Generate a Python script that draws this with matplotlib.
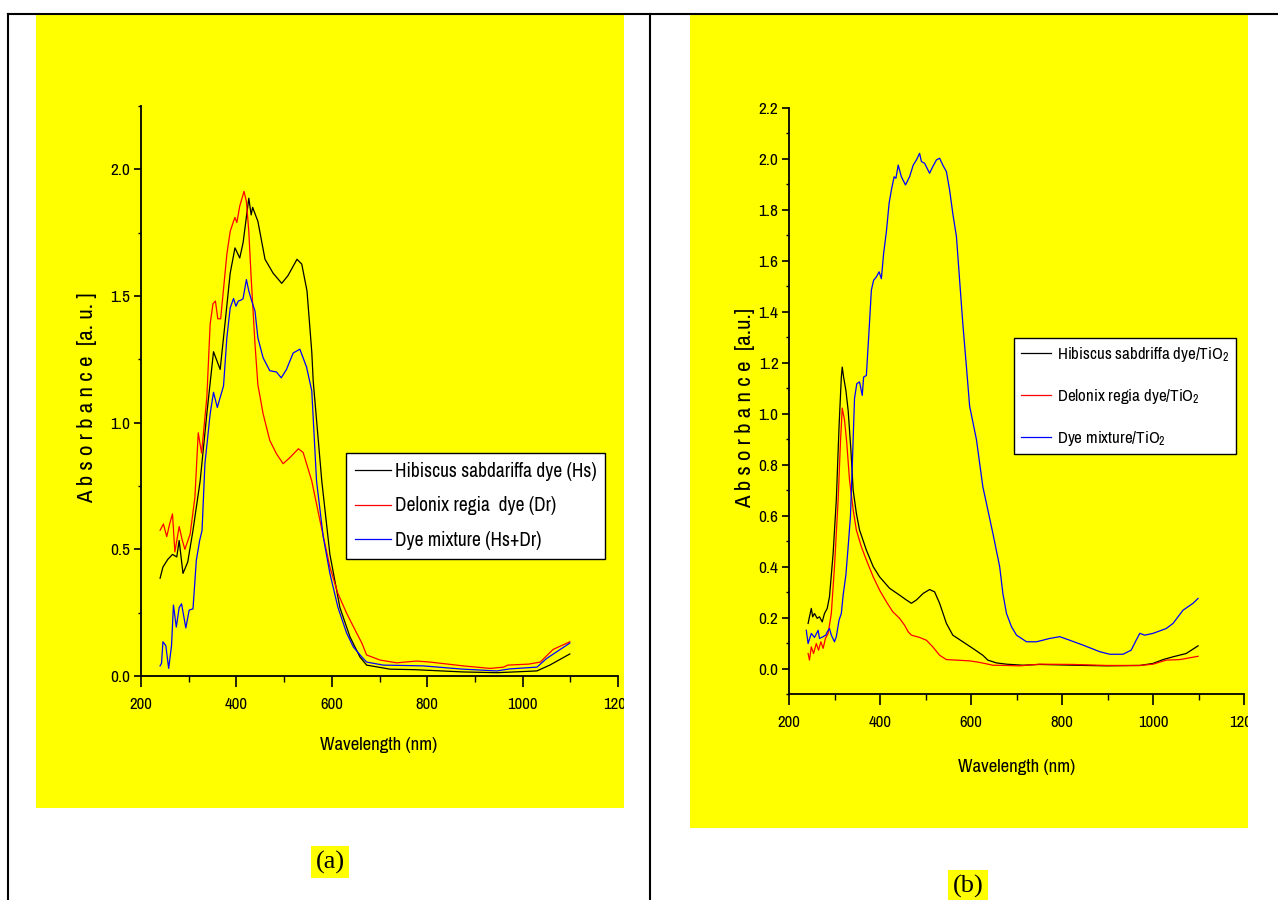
import matplotlib
matplotlib.use("Agg")
import matplotlib.pyplot as plt
from matplotlib.patches import Rectangle
from matplotlib.lines import Line2D
from matplotlib.transforms import Bbox, TransformedBbox
from matplotlib.ticker import MultipleLocator, FormatStrFormatter

NARROW = 'Archivo Narrow'
plt.rcParams['font.family'] = [NARROW, 'DejaVu Sans']
plt.rcParams['mathtext.fontset'] = 'custom'
plt.rcParams['mathtext.rm'] = NARROW
plt.rcParams['mathtext.it'] = NARROW + ':italic'

# (a) dyes in solution
hs_wl = [240, 246, 256, 266, 275, 280, 288, 298, 309, 324, 338, 352, 366, 376, 387, 397,
         407, 414, 426, 431, 434, 445, 460, 477, 495, 508, 527, 537, 548, 558, 561, 579,
         596, 617, 638, 659, 673, 722, 774, 875, 946, 1030, 1057, 1099]
hs_abs = [0.386, 0.43, 0.46, 0.48, 0.47, 0.535, 0.405, 0.45, 0.575, 0.77, 1.035, 1.28, 1.21,
          1.39, 1.59, 1.69, 1.65, 1.71, 1.886, 1.82, 1.85, 1.795, 1.645, 1.59, 1.55, 1.58,
          1.645, 1.626, 1.52, 1.28, 1.165, 0.77, 0.48, 0.27, 0.155, 0.075, 0.043, 0.027,
          0.025, 0.016, 0.013, 0.02, 0.043, 0.087]

dr_wl = [240, 247, 254, 260, 266, 271, 280, 286, 292, 303, 313, 320, 327, 338, 345, 351, 356,
         361, 367, 380, 387, 394, 397, 401, 407, 416, 421, 426, 431, 439, 445, 456, 470, 484,
         498, 512, 530, 540, 558, 575, 596, 613, 631, 652, 663, 673, 701, 736, 778, 806, 875,
         932, 960, 969, 1013, 1037, 1064, 1099]
dr_abs = [0.575, 0.6, 0.55, 0.6, 0.64, 0.49, 0.59, 0.54, 0.5, 0.56, 0.705, 0.96, 0.88, 1.1,
          1.39, 1.47, 1.48, 1.41, 1.41, 1.665, 1.755, 1.795, 1.81, 1.79, 1.855, 1.913, 1.873,
          1.755, 1.57, 1.31, 1.15, 1.035, 0.93, 0.877, 0.838, 0.862, 0.897, 0.882, 0.77,
          0.615, 0.43, 0.325, 0.248, 0.17, 0.13, 0.083, 0.063, 0.052, 0.059, 0.055, 0.04,
          0.03, 0.035, 0.043, 0.047, 0.055, 0.105, 0.135]

mix_wl = [240, 243, 246, 252, 258, 264, 268, 274, 280, 285, 294, 301, 309, 316, 323, 328, 334,
          345, 352, 360, 366, 373, 380, 387, 394, 399, 404, 411, 414, 421, 426, 431, 439, 445,
          456, 470, 484, 494, 505, 519, 533, 547, 558, 568, 582, 596, 613, 631, 645, 663, 673,
          708, 791, 875, 946, 973, 1030, 1051, 1099]
mix_abs = [0.04, 0.05, 0.135, 0.12, 0.03, 0.12, 0.28, 0.193, 0.27, 0.285, 0.19, 0.26, 0.265,
           0.457, 0.535, 0.575, 0.838, 1.035, 1.12, 1.06, 1.1, 1.145, 1.335, 1.453, 1.49,
           1.46, 1.48, 1.485, 1.49, 1.565, 1.52, 1.487, 1.44, 1.335, 1.256, 1.205, 1.2, 1.177,
           1.21, 1.275, 1.29, 1.22, 1.126, 0.77, 0.55, 0.405, 0.27, 0.17, 0.115, 0.075, 0.055,
           0.043, 0.04, 0.027, 0.02, 0.028, 0.035, 0.07, 0.13]

# (b) dyes on TiO2
hs_t_wl = [242, 245, 249, 252, 256, 262, 267, 273, 278, 284, 289, 297, 304, 310, 315, 317,
           320, 325, 330, 336, 341, 348, 355, 370, 385, 399, 421, 443, 458, 469, 480, 495,
           509, 520, 531, 546, 560, 582, 604, 626, 637, 656, 678, 714, 751, 824, 897, 971,
           1000, 1022, 1044, 1073, 1099]
hs_t_abs = [0.177, 0.203, 0.236, 0.203, 0.216, 0.197, 0.203, 0.183, 0.216, 0.236, 0.282,
            0.452, 0.662, 0.95, 1.144, 1.183, 1.144, 1.092, 1.013, 0.858, 0.7, 0.61, 0.544,
            0.465, 0.4, 0.36, 0.315, 0.288, 0.269, 0.256, 0.269, 0.295, 0.31, 0.301, 0.256,
            0.177, 0.131, 0.105, 0.079, 0.052, 0.033, 0.022, 0.017, 0.013, 0.016, 0.013,
            0.0105, 0.012, 0.02, 0.035, 0.046, 0.059, 0.089]

dr_t_wl = [242, 245, 249, 254, 260, 265, 270, 275, 280, 286, 293, 300, 308, 313, 317, 322,
           327, 333, 341, 348, 359, 370, 385, 399, 414, 428, 443, 454, 462, 469, 487, 502,
           516, 531, 546, 568, 597, 619, 648, 678, 707, 751, 824, 897, 971, 1000, 1029, 1059,
           1099]
dr_t_abs = [0.059, 0.033, 0.085, 0.059, 0.098, 0.072, 0.105, 0.079, 0.118, 0.138, 0.216, 0.4,
            0.662, 0.885, 1.022, 0.976, 0.885, 0.74, 0.623, 0.544, 0.478, 0.426, 0.36, 0.308,
            0.262, 0.223, 0.197, 0.17, 0.144, 0.131, 0.122, 0.111, 0.085, 0.052, 0.035, 0.033,
            0.03, 0.024, 0.013, 0.012, 0.0105, 0.017, 0.016, 0.012, 0.012, 0.017, 0.033,
            0.035, 0.048]

mix_t_wl = [238, 242, 249, 256, 264, 267, 275, 281, 284, 289, 293, 300, 304, 310, 315, 319,
            325, 330, 335, 339, 344, 349, 355, 361, 364, 370, 376, 381, 386, 392, 398, 403,
            408, 414, 420, 425, 431, 435, 440, 447, 456, 465, 473, 480, 487, 491, 498, 509,
            516, 524, 531, 538, 546, 553, 560, 568, 575, 582, 590, 597, 612, 626, 648, 663,
            670, 678, 689, 700, 722, 744, 773, 795, 817, 846, 883, 905, 934, 952, 963, 971,
            982, 1000, 1029, 1044, 1066, 1088, 1099]
mix_t_abs = [0.15, 0.098, 0.138, 0.122, 0.15, 0.118, 0.125, 0.131, 0.144, 0.157, 0.131, 0.105,
             0.125, 0.19, 0.216, 0.288, 0.367, 0.478, 0.596, 0.793, 1.06, 1.118, 1.125, 1.072,
             1.144, 1.15, 1.328, 1.485, 1.524, 1.537, 1.557, 1.53, 1.63, 1.714, 1.826, 1.878,
             1.93, 1.924, 1.976, 1.93, 1.898, 1.93, 1.976, 1.996, 2.022, 1.99, 1.983, 1.944,
             1.97, 1.996, 2.003, 1.976, 1.95, 1.878, 1.786, 1.695, 1.524, 1.354, 1.183, 1.03,
             0.898, 0.714, 0.531, 0.4, 0.295, 0.216, 0.164, 0.131, 0.105, 0.105, 0.118, 0.125,
             0.111, 0.092, 0.066, 0.056, 0.056, 0.072, 0.111, 0.138, 0.131, 0.138, 0.157,
             0.177, 0.229, 0.256, 0.275]

labels_a = ['Hibiscus sabdariffa dye (Hs)', 'Delonix regia  dye (Dr)', 'Dye mixture (Hs+Dr)']
labels_b = ['Hibiscus sabdriffa dye/TiO$_2$', 'Delonix regia dye/TiO$_2$', 'Dye mixture/TiO$_2$']
x_ticks = [200, 400, 600, 800, 1000, 1200]

W, H = 1278, 900
YEL = '#FFFF00'


def fx(px):
    return px / W


def fy(py):
    return 1 - py / H


fig = plt.figure(figsize=(W / 100, H / 100), dpi=100)

# yellow panel backgrounds
fig.patches.append(Rectangle((fx(36), fy(808)), fx(624) - fx(36), fy(15) - fy(808),
                             transform=fig.transFigure, facecolor=YEL, edgecolor='none', zorder=-2))
fig.patches.append(Rectangle((fx(690), fy(828)), fx(1248) - fx(690), fy(15) - fy(828),
                             transform=fig.transFigure, facecolor=YEL, edgecolor='none', zorder=-2))

# table borders
for xs, ys in [([8, 1278], [14, 14]), ([8, 8], [14, 900]), ([650, 650], [14, 900])]:
    fig.lines.append(Line2D([fx(v) for v in xs], [fy(v) for v in ys], transform=fig.transFigure,
                            color='black', lw=1.5, zorder=3))


def style(ax, ylim, ymaj, ymin, clip_px):
    ax.set_facecolor(YEL)
    ax.set_xlim(200, 1200)
    ax.set_ylim(*ylim)
    ax.set_xticks(x_ticks)
    ax.xaxis.set_minor_locator(MultipleLocator(100))
    ax.yaxis.set_major_locator(MultipleLocator(ymaj))
    ax.yaxis.set_minor_locator(MultipleLocator(ymin))
    ax.yaxis.set_major_formatter(FormatStrFormatter('%.1f'))
    for s in ['top', 'right']:
        ax.spines[s].set_visible(False)
    for s in ['left', 'bottom']:
        ax.spines[s].set_linewidth(1.3)
    ax.tick_params(axis='x', which='major', length=8, width=1.2, direction='out', labelsize=12, pad=7)
    ax.tick_params(axis='x', which='minor', length=4.5, width=1.0, direction='out')
    ax.tick_params(axis='y', which='major', length=5, width=1.2, direction='out', labelsize=12.5, pad=2.5)
    ax.tick_params(axis='y', which='minor', length=2.5, width=1.0, direction='out')
    bb = TransformedBbox(Bbox([[fx(clip_px[0]), fy(clip_px[1])], [fx(clip_px[2]), fy(clip_px[3])]]),
                         fig.transFigure)
    for t in ax.xaxis.get_major_ticks():
        t.label1.set_clip_on(True)
        t.label1.set_clip_box(bb)


# ---- panel (a)
ax1 = fig.add_axes([fx(141), fy(676), fx(618) - fx(141), fy(106) - fy(676)])
ax1.plot(hs_wl, hs_abs, color='black', lw=0.9, label=labels_a[0])
ax1.plot(dr_wl, dr_abs, color='red', lw=0.9, label=labels_a[1])
ax1.plot(mix_wl, mix_abs, color='blue', lw=0.9, label=labels_a[2])
style(ax1, (0, 2.25), 0.5, 0.25, (36, 808, 624, 15))
ax1.set_xlabel('Wavelength (nm)', fontsize=13.5, va='center')
ax1.xaxis.set_label_coords(0.499, -0.121)
ax1.set_ylabel('A b s o r b a n c e  [a. u. ]', fontsize=16.5, va='center')
ax1.yaxis.set_label_coords(-0.113, 0.489)
leg1 = ax1.legend(loc='upper left', bbox_to_anchor=(fx(346), fy(453)), bbox_transform=fig.transFigure,
                  fontsize=14, frameon=True, fancybox=False, edgecolor='black', framealpha=1,
                  borderpad=0.45, labelspacing=0.8, handlelength=1.85, handletextpad=0.2,
                  borderaxespad=0)
leg1.get_frame().set_linewidth(1.0)

# ---- panel (b)
ax2 = fig.add_axes([fx(789), fy(694), fx(1244) - fx(789), fy(108) - fy(694)])
ax2.plot(hs_t_wl, hs_t_abs, color='black', lw=0.9, label=labels_b[0])
ax2.plot(dr_t_wl, dr_t_abs, color='red', lw=0.9, label=labels_b[1])
ax2.plot(mix_t_wl, mix_t_abs, color='blue', lw=0.9, label=labels_b[2])
style(ax2, (-0.1, 2.2), 0.2, 0.1, (690, 828, 1248, 15))
ax2.set_xlabel('Wavelength (nm)', fontsize=13.5, va='center')
ax2.xaxis.set_label_coords(0.501, -0.1246)
ax2.set_ylabel('A b s o r b a n c e  [a.u.]', fontsize=16.5, va='center')
ax2.yaxis.set_label_coords(-0.097, 0.488)
leg2 = ax2.legend(loc='upper left', bbox_to_anchor=(fx(1014), fy(338)), bbox_transform=fig.transFigure,
                  fontsize=12.2, frameon=True, fancybox=False, edgecolor='black', framealpha=1,
                  borderpad=0.4, labelspacing=1.35, handlelength=1.8, handletextpad=0.33,
                  borderaxespad=0)
leg2.get_frame().set_linewidth(1.0)

# panel captions
fig.text(fx(330), fy(862), '(a)', fontsize=19, family='Liberation Serif', ha='center', va='center',
         bbox=dict(facecolor=YEL, edgecolor='none', pad=3))
fig.text(fx(968), fy(886), '(b)', fontsize=19, family='Liberation Serif', ha='center', va='center',
         bbox=dict(facecolor=YEL, edgecolor='none', pad=3))

fig.savefig('out.png', dpi=100)
